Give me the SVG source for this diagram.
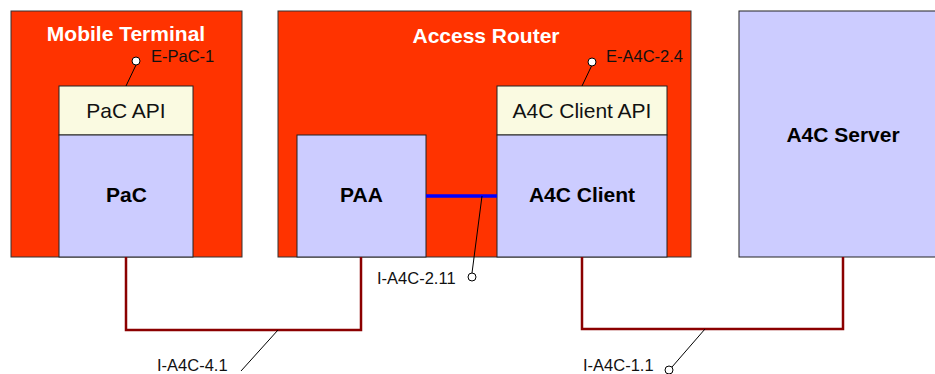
<svg xmlns="http://www.w3.org/2000/svg" width="935" height="374" viewBox="0 0 935 374">
<style>
.cont{fill:#FF3300;stroke:#333;stroke-width:1}
.comp{fill:#CCCCFF;stroke:#222;stroke-width:1}
.api{fill:#FAFAE1;stroke:#222;stroke-width:1}
.title{font-family:"Liberation Sans",Arial,sans-serif;font-weight:bold;font-size:21px;fill:#fff;text-anchor:middle}
.bold{font-family:"Liberation Sans",Arial,sans-serif;font-weight:bold;font-size:21px;fill:#000;text-anchor:middle}
.apitxt{font-family:"Liberation Sans",Arial,sans-serif;font-size:21px;fill:#111;text-anchor:middle}
.lbl{font-family:"Liberation Sans",Arial,sans-serif;font-size:16.5px;fill:#111}
.wire{fill:none;stroke:#8B0000;stroke-width:2.5}
.lead{fill:none;stroke:#000;stroke-width:1}
.pin{fill:#fff;stroke:#000;stroke-width:1}
</style>
<rect width="935" height="374" fill="#fff"/>
<g id="mobile-terminal">
<rect class="cont" x="11" y="11" width="231" height="246"/>
<text class="title" x="126" y="41">Mobile Terminal</text>
</g>
<g id="access-router">
<rect class="cont" x="278" y="11" width="413" height="246"/>
<text class="title" x="486" y="43">Access Router</text>
</g>
<g id="pac-api">
<rect class="api" x="59" y="86" width="134" height="49"/>
<text class="apitxt" x="126" y="118">PaC API</text>
</g>
<g id="pac">
<rect class="comp" x="59" y="135" width="134" height="122"/>
<text class="bold" x="126.5" y="202">PaC</text>
</g>
<g id="paa">
<rect class="comp" x="297" y="135" width="129" height="122"/>
<text class="bold" x="361.5" y="202">PAA</text>
</g>
<g id="a4c-client-api">
<rect class="api" x="497" y="86" width="170" height="49"/>
<text class="apitxt" x="582" y="118">A4C Client API</text>
</g>
<g id="a4c-client">
<rect class="comp" x="497" y="135" width="170" height="122"/>
<text class="bold" x="582" y="202">A4C Client</text>
</g>
<g id="a4c-server">
<rect class="comp" x="739" y="11" width="210" height="246"/>
<text class="bold" x="843" y="142">A4C Server</text>
</g>
<g id="connectors">
<line x1="426" y1="196" x2="497" y2="196" stroke="#0000FF" stroke-width="3.5"/>
<polyline class="wire" points="126,257 126,330 361,330 361,257"/>
<polyline class="wire" points="582,257 582,329 843,329 843,257"/>
<line class="lead" x1="136" y1="65" x2="126" y2="86"/>
<circle class="pin" cx="136" cy="61" r="4"/>
<text class="lbl" x="151" y="62">E-PaC-1</text>
<line class="lead" x1="591.5" y1="66" x2="582" y2="86"/>
<circle class="pin" cx="592" cy="62" r="4"/>
<text class="lbl" x="606" y="62">E-A4C-2.4</text>
<line class="lead" x1="482" y1="196" x2="472" y2="273"/>
<circle class="pin" cx="472" cy="277" r="4"/>
<text class="lbl" x="377" y="284">I-A4C-2.11</text>
<line class="lead" x1="278" y1="330" x2="241" y2="371"/>
<text class="lbl" x="157" y="371">I-A4C-4.1</text>
<line class="lead" x1="705" y1="329" x2="672" y2="367"/>
<circle class="pin" cx="669" cy="370" r="4"/>
<text class="lbl" x="583" y="371">I-A4C-1.1</text>
</g>
</svg>
